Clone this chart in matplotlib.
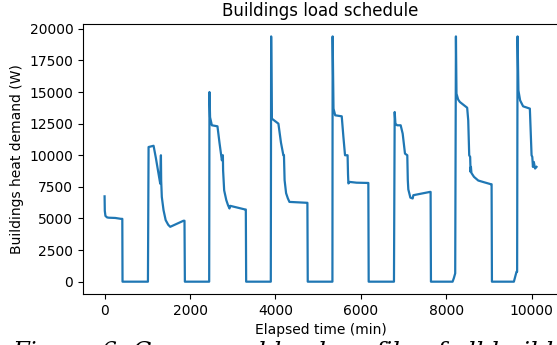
import matplotlib
matplotlib.use("Agg")
import matplotlib.pyplot as plt

# Elapsed time (min) and building heat demand (W)
time_min = [
    0, 5, 20, 60, 100, 250, 383, 415, 420, 1015, 1030, 1147,
    1200, 1260, 1303, 1319, 1325, 1340, 1380, 1430, 1490, 1537, 1848, 1871, 1880,
    2449, 2456, 2470, 2512, 2643, 2690, 2746, 2770, 2775, 2800, 2850, 2890, 2925, 2940, 3291, 3307, 3315,
    3892, 3900, 3915, 4070, 4130, 4186, 4200, 4215, 4250, 4290, 4328, 4734, 4749, 4757,
    5335, 5340, 5360, 5400, 5553, 5592, 5630, 5690, 5700, 5709, 5740, 5900, 6152, 6176, 6184,
    6776, 6793, 6810, 6850, 6933, 6980, 7034, 7088, 7100, 7112, 7160, 7214, 7230, 7619, 7634, 7642,
    8149, 8180, 8210, 8227, 8240, 8280, 8320, 8490, 8515, 8538, 8560, 8570, 8578, 8590, 8650, 8750, 8900, 9045, 9062, 9070,
    9584, 9646, 9660, 9670, 9690, 9730, 9800, 9958, 9998, 10015, 10030, 10051, 10080, 10114,
]
heat_demand_W = [
    6750, 5600, 5200, 5080, 5060, 5040, 4970, 4970, 0, 0, 10650, 10750,
    9800, 8600, 7750, 10000, 8000, 6700, 5660, 4870, 4500, 4340, 4820, 4820, 0,
    0, 15000, 13000, 12370, 12290, 11000, 9600, 10000, 8800, 7220, 6450, 6050, 5790, 6000, 5710, 5710, 0,
    0, 19400, 12900, 12500, 11000, 10000, 10000, 8030, 7000, 6600, 6310, 6240, 6240, 0,
    0, 19400, 13690, 13160, 13080, 11450, 10000, 10000, 8500, 7770, 7890, 7830, 7810, 7810, 0,
    0, 13420, 12500, 12370, 12370, 11710, 10130, 10000, 8030, 7300, 6650, 6580, 6840, 7100, 7100, 0,
    0, 300, 660, 19400, 14870, 14400, 14210, 13760, 12760, 10000, 9870, 8680, 9080, 8600, 8290, 8000, 7850, 7710, 7710, 0,
    0, 790, 790, 19400, 15130, 14340, 13870, 13690, 10000, 9870, 9080, 9470, 8950, 9080,
]

fig = plt.figure(figsize=(5.57, 3.45), dpi=100)
ax = fig.add_axes([0.149, 0.148, 0.853, 0.782])
ax.plot(time_min, heat_demand_W, color="#1f77b4", linewidth=1.6)
ax.set_title("Buildings load schedule", fontsize=12)
ax.set_xlabel("Elapsed time (min)", fontsize=10)
ax.set_ylabel("Buildings heat demand (W)", fontsize=10)
ax.set_xticks([0, 2000, 4000, 6000, 8000, 10000])
ax.set_yticks([0, 2500, 5000, 7500, 10000, 12500, 15000, 17500, 20000])
ax.tick_params(labelsize=10)

fig.text(12 / 557, -0.040, "Figure 6: Compound load profile of all buildings",
         family="DejaVu Serif", style="italic", fontsize=17.5, va="baseline", ha="left")

fig.savefig("out.png", dpi=100)
